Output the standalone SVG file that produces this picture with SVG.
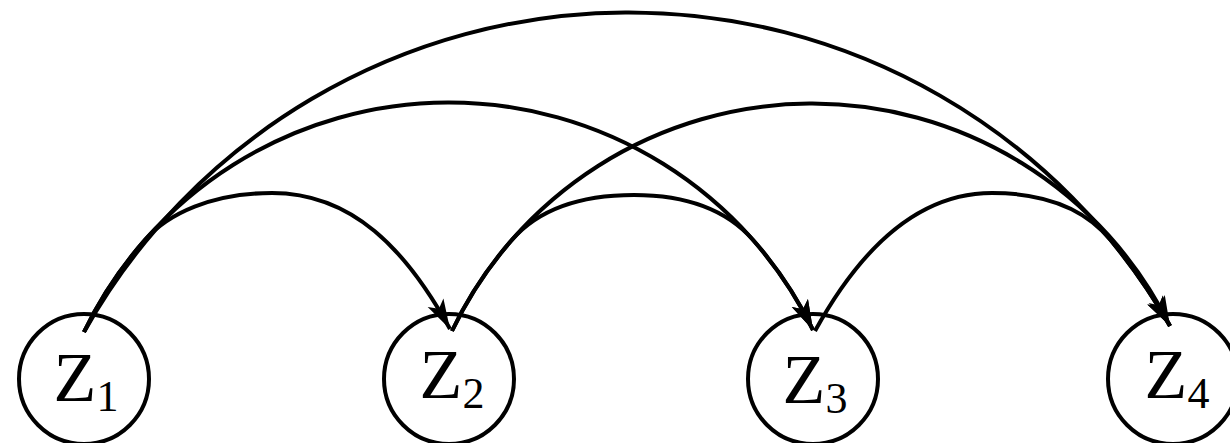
<svg xmlns="http://www.w3.org/2000/svg" width="1230" height="443" viewBox="0 0 1230 443">
<defs>
<style>
.node circle{fill:none;stroke:#000;stroke-width:4}
.lbl{font-family:"Liberation Serif","Times New Roman",serif;font-size:70px;fill:#000;text-anchor:middle}
.sub{font-size:44px}
.edge{fill:none;stroke:#000;stroke-width:4;marker-end:url(#ah)}
</style>
<marker id="ah" viewBox="-32 -11 34 22" refX="0" refY="0" markerWidth="34" markerHeight="22" markerUnits="userSpaceOnUse" orient="auto">
<path d="M0,0 L-30,-9 L-23,0 L-30,9 Z" fill="#000"/>
</marker>
</defs>
<rect width="1230" height="443" fill="#fff"/>
<g id="Z1" class="node"><circle cx="84" cy="379" r="65"/><text class="lbl" x="86" y="401">Z<tspan class="sub" dy="10">1</tspan></text></g>
<g id="Z2" class="node"><circle cx="449" cy="379" r="65"/><text class="lbl" x="452" y="398">Z<tspan class="sub" dy="10">2</tspan></text></g>
<g id="Z3" class="node"><circle cx="813" cy="379" r="65"/><text class="lbl" x="815" y="403">Z<tspan class="sub" dy="10">3</tspan></text></g>
<g id="Z4" class="node"><circle cx="1173" cy="379" r="65"/><text class="lbl" x="1177" y="398">Z<tspan class="sub" dy="10">4</tspan></text></g>
<g id="connectors">
<path class="edge" d="M84,332 A624,624 0 0 1 1170,326"/>
<path class="edge" d="M84,332 A405,405 0 0 1 144.9,240 C168,213.7 212,193 272,193 C352,193 406,249 450,329"/>
<path class="edge" d="M84,332 A405,405 0 0 1 813,330"/>
<path class="edge" d="M452,331 A399,399 0 0 1 511.8,240 C534.8,213.6 574,195 634,195 C694,195 730,213.7 753.1,240 A405,405 0 0 1 813,330"/>
<path class="edge" d="M452,331 A399,399 0 0 1 1170,326"/>
<path class="edge" d="M815,331 C859,251 917,193 992,193 C1052,193 1088.4,213 1110.6,240 A624,624 0 0 1 1170,326"/>
</g>
</svg>
